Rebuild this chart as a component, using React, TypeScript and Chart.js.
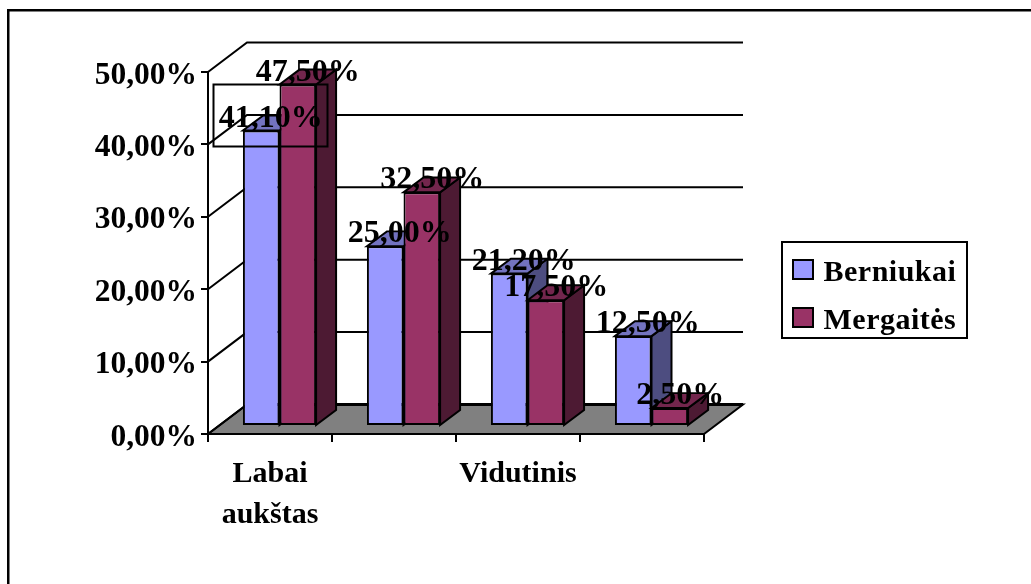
import React, { useEffect, useRef } from "react";
import { Chart, registerables } from "chart.js";

Chart.register(...registerables);

const categories: string[] = ["Labai aukštas", "", "Vidutinis", ""];
const berniukai: number[] = [41.1, 25.0, 21.2, 12.5];
const mergaites: number[] = [47.5, 32.5, 17.5, 2.5];
const yTicks: number[] = [0, 10, 20, 30, 40, 50];

const FONT = '"Liberation Serif", "Times New Roman", serif';
const fmt = (v: number) => v.toFixed(2).replace(".", ",") + "%";

// Oblique projection of the 3D box: offsets of the wall and of one bar's depth.
const WALL = { dx: 39, dy: -29.5 };
const BAR_DEPTH = { dx: 20, dy: -15 };
const BAR_SHIFT = { dx: 9.5, dy: -8 };
const BAR_SQUASH = 0.993;

const palette = [
  { front: "#9999FF", top: "#7373C0", side: "#4D4D80" },
  { front: "#993366", top: "#73264D", side: "#4D1A33" },
];

// Horizontal placement of the value labels relative to their bars, per series.
const labelNudge = [
  [9.5, 14.5, 14.5, 14.5],
  [10, 10.5, 10.5, 10.5],
];

function applyBarTransform(ctx: CanvasRenderingContext2D, zeroY: number) {
  ctx.translate(BAR_SHIFT.dx, BAR_SHIFT.dy + zeroY);
  ctx.scale(1, BAR_SQUASH);
  ctx.translate(0, -zeroY);
}

function poly(ctx: CanvasRenderingContext2D, pts: number[][], fill: string | null, lw: number) {
  ctx.beginPath();
  pts.forEach((p, i) => (i ? ctx.lineTo(p[0], p[1]) : ctx.moveTo(p[0], p[1])));
  ctx.closePath();
  if (fill) {
    ctx.fillStyle = fill;
    ctx.fill();
  }
  ctx.lineWidth = lw;
  ctx.strokeStyle = "#000";
  ctx.stroke();
}

// Page frame behind everything: only the top and left rules are present.
const framePlugin = {
  id: "frame",
  beforeDraw(chart: any) {
    const { ctx } = chart;
    ctx.save();
    ctx.fillStyle = "#fff";
    ctx.fillRect(0, 0, chart.width, chart.height);
    ctx.fillStyle = "#000";
    ctx.fillRect(7, 9, chart.width - 7, 2.5);
    ctx.fillRect(7, 9, 2.5, chart.height - 9);
    ctx.restore();
  },
};

// Floor, side wall and back wall lines of the 3D box.
const boxPlugin = {
  id: "box",
  beforeDatasetsDraw(chart: any) {
    const { ctx, chartArea: a, scales } = chart;
    const y = scales.y;
    ctx.save();
    const zero = y.getPixelForValue(0);
    poly(
      ctx,
      [
        [a.left, zero],
        [a.right, zero],
        [a.right + WALL.dx, zero + WALL.dy],
        [a.left + WALL.dx, zero + WALL.dy],
      ],
      "#808080",
      2
    );
    ctx.lineWidth = 2;
    ctx.strokeStyle = "#000";
    yTicks.forEach((t) => {
      const py = y.getPixelForValue(t);
      ctx.beginPath();
      ctx.moveTo(a.left, py);
      ctx.lineTo(a.left + WALL.dx, py + WALL.dy);
      ctx.lineTo(a.right + WALL.dx, py + WALL.dy);
      ctx.stroke();
    });
    // The back edge of the floor is heavier than the other wall lines.
    ctx.lineWidth = 3;
    ctx.beginPath();
    ctx.moveTo(a.left + WALL.dx, zero + WALL.dy);
    ctx.lineTo(a.right + WALL.dx, zero + WALL.dy);
    ctx.stroke();
    ctx.restore();
  },
};

// Bars are painted series by series, each with its top and side faces behind its front face.
const barFacesPlugin = {
  id: "barFaces",
  beforeDatasetsDraw(chart: any) {
    const { ctx } = chart;
    const zero = chart.scales.y.getPixelForValue(0);
    chart.data.datasets.forEach((_: any, i: number) => {
      const c = palette[i];
      const meta = chart.getDatasetMeta(i);
      ctx.save();
      applyBarTransform(ctx, zero);
      meta.data.forEach((bar: any) => {
        const l = bar.x - bar.width / 2;
        const r = bar.x + bar.width / 2;
        const t = bar.y;
        const b = bar.base;
        const { dx, dy } = BAR_DEPTH;
        poly(ctx, [[r, t], [r + dx, t + dy], [r + dx, b + dy], [r, b]], c.side, 2);
        poly(ctx, [[l, t], [l + dx, t + dy], [r + dx, t + dy], [r, t]], c.top, 2);
        bar.draw(ctx);
      });
      ctx.restore();
    });
  },
  beforeDatasetDraw() {
    return false;
  },
};

// Value labels, the legend and the outlined box sit above the bars.
const overlayPlugin = {
  id: "overlay",
  afterDatasetsDraw(chart: any) {
    const { ctx, data } = chart;
    const zero = chart.scales.y.getPixelForValue(0);
    ctx.save();
    ctx.fillStyle = "#000";
    ctx.font = `bold 32px ${FONT}`;
    ctx.textAlign = "center";
    ctx.textBaseline = "alphabetic";
    data.datasets.forEach((ds: any, i: number) => {
      chart.getDatasetMeta(i).data.forEach((bar: any, j: number) => {
        const top = zero + (bar.y - zero) * BAR_SQUASH + BAR_SHIFT.dy;
        ctx.fillText(fmt(ds.data[j]), bar.x + BAR_SHIFT.dx + labelNudge[i][j], top - 4);
      });
    });

    ctx.lineWidth = 2;
    ctx.strokeStyle = "#000";
    ctx.strokeRect(213.5, 84.5, 114, 62);

    // Legend
    ctx.lineWidth = 2;
    ctx.fillStyle = "#fff";
    ctx.fillRect(782, 242, 185, 96);
    ctx.strokeRect(782, 242, 185, 96);
    ctx.textAlign = "left";
    ctx.font = `bold 30px ${FONT}`;
    (ctx as any).letterSpacing = "0.5px";
    data.datasets.forEach((ds: any, i: number) => {
      const sy = 260 + i * 48;
      ctx.fillStyle = ds.backgroundColor;
      ctx.fillRect(793, sy, 20, 19);
      ctx.lineWidth = 2;
      ctx.strokeRect(793, sy, 20, 19);
      ctx.fillStyle = "#000";
      ctx.fillText(ds.label, 823.5, 280.5 + i * 48);
    });
    ctx.restore();
  },
};

export default function App() {
  const ref = useRef<HTMLCanvasElement>(null);
  useEffect(() => {
    const chart = new Chart(ref.current as HTMLCanvasElement, {
      type: "bar",
      data: {
        labels: categories,
        datasets: [
          { label: "Berniukai", data: berniukai, backgroundColor: palette[0].front, borderColor: "#000", borderWidth: 2, borderSkipped: false },
          { label: "Mergaitės", data: mergaites, backgroundColor: palette[1].front, borderColor: "#000", borderWidth: 2, borderSkipped: false },
        ],
      },
      options: {
        responsive: false,
        animation: false,
        layout: { padding: { left: 88, top: 72, right: 327, bottom: 40 } },
        datasets: { bar: { categoryPercentage: 0.59, barPercentage: 1 } },
        plugins: { legend: { display: false }, title: { display: false }, tooltip: { enabled: false } },
        scales: {
          x: {
            afterFit(scale: any) {
              scale.height = 110;
            },
            border: { color: "#000", width: 2 },
            grid: { drawOnChartArea: false, drawTicks: true, tickLength: 8, color: "#000", lineWidth: 2 },
            ticks: {
              autoSkip: false,
              maxRotation: 0,
              color: "#000",
              padding: 12,
              font: { family: FONT, size: 30, weight: "bold", lineHeight: 1.37 },
              callback(this: any, value: any) {
                return String(this.getLabelForValue(value)).split(" ");
              },
            },
          },
          y: {
            min: 0,
            max: 50,
            afterFit(scale: any) {
              scale.width = 120;
              // The value labels sit a little below their tick marks.
              if (!scale.labelsLowered) {
                const draw = scale.drawLabels.bind(scale);
                scale.drawLabels = (area: any) => {
                  scale.ctx.save();
                  scale.ctx.translate(0, 3.5);
                  draw(area);
                  scale.ctx.restore();
                };
                scale.labelsLowered = true;
              }
            },
            afterBuildTicks(scale: any) {
              scale.ticks = yTicks.map((value) => ({ value }));
            },
            border: { color: "#000", width: 2 },
            grid: { drawOnChartArea: false, drawTicks: true, tickLength: 7, color: "#000", lineWidth: 2 },
            ticks: {
              color: "#000",
              padding: 4,
              font: { family: FONT, size: 31.5, weight: "bold" },
              callback: (v: any) => fmt(Number(v)),
            },
          },
        },
      },
      plugins: [framePlugin, boxPlugin, barFacesPlugin, overlayPlugin],
    } as any);
    return () => chart.destroy();
  }, []);
  return (
    <canvas
      ref={ref}
      width={1031}
      height={584}
      style={{ position: "absolute", left: 0, top: 0, display: "block" }}
    />
  );
}
